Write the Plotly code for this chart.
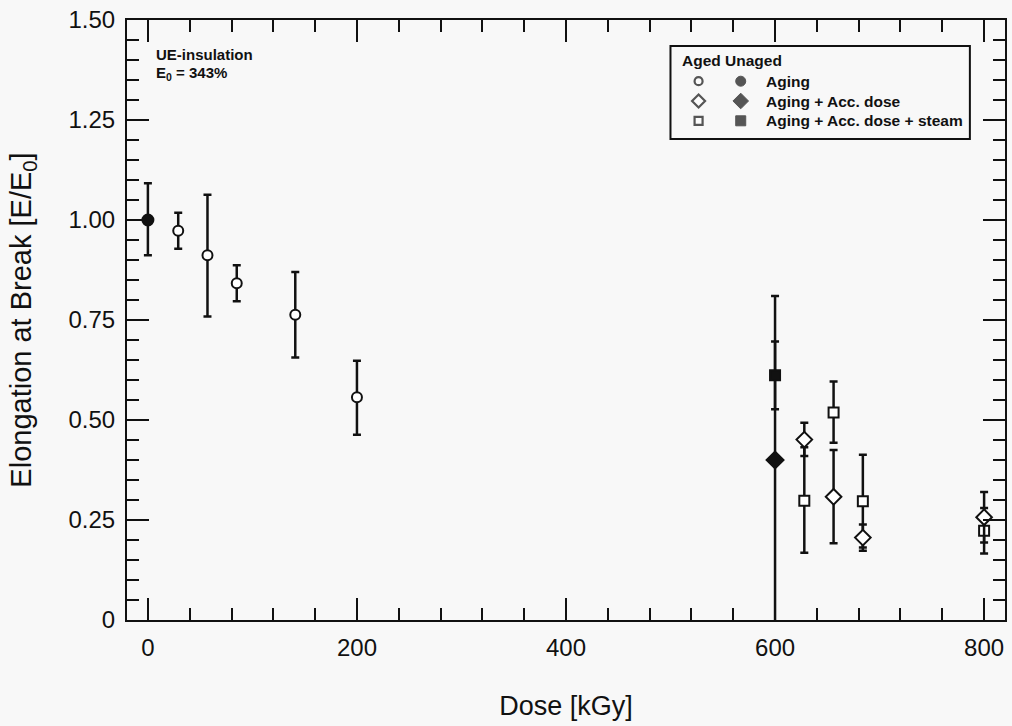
import plotly.graph_objects as go

# ---------------- data ----------------
aged_aging_dose = [29, 57, 85, 141, 200]
aged_aging_val = [0.973, 0.912, 0.842, 0.763, 0.557]
aged_aging_err_plus = [0.045, 0.151, 0.045, 0.107, 0.091]
aged_aging_err_minus = [0.045, 0.153, 0.045, 0.107, 0.094]

unaged_aging_dose = [0]
unaged_aging_val = [1.00]
unaged_aging_err_plus = [0.092]
unaged_aging_err_minus = [0.088]

aged_acc_dose = [628, 656, 684, 800]
aged_acc_val = [0.451, 0.308, 0.206, 0.257]
aged_acc_err_plus = [0.042, 0.117, 0.033, 0.063]
aged_acc_err_minus = [0.041, 0.116, 0.033, 0.063]

unaged_acc_dose = [600]
unaged_acc_val = [0.40]
unaged_acc_err_plus = [0.41]
unaged_acc_err_minus = [0.42]

aged_steam_dose = [628, 656, 684, 800]
aged_steam_val = [0.298, 0.519, 0.297, 0.223]
aged_steam_err_plus = [0.134, 0.077, 0.116, 0.057]
aged_steam_err_minus = [0.130, 0.076, 0.116, 0.057]

unaged_steam_dose = [600]
unaged_steam_val = [0.612]
unaged_steam_err_plus = [0.084]
unaged_steam_err_minus = [0.085]

x_ticks = [0, 200, 400, 600, 800]
x_tick_labels = ["0", "200", "400", "600", "800"]
y_ticks = [0, 0.25, 0.5, 0.75, 1.0, 1.25, 1.5]
y_tick_labels = ["0", "0.25", "0.50", "0.75", "1.00", "1.25", "1.50"]

legend_labels = ["Aging", "Aging + Acc. dose", "Aging + Acc. dose + steam"]
legend_symbols = ["circle", "diamond", "square"]

# ---------------- style ----------------
BG = "#f8f8f8"
FONT = "Liberation Sans, Arial, Helvetica, sans-serif"
BLACK = "#111111"


def err(plus, minus):
    return dict(type="data", symmetric=False, array=plus, arrayminus=minus,
                color=BLACK, thickness=2.5, width=4)


def series(x, y, plus, minus, symbol, filled, size):
    return go.Scatter(
        x=x, y=y, mode="markers",
        error_y=err(plus, minus),
        marker=dict(symbol=symbol, size=size,
                    color=BLACK if filled else "white",
                    line=dict(color=BLACK, width=2)),
        showlegend=False, cliponaxis=True,
    )


fig = go.Figure()
fig.add_trace(series(unaged_acc_dose, unaged_acc_val, unaged_acc_err_plus, unaged_acc_err_minus, "diamond", True, 13))
fig.add_trace(series(unaged_steam_dose, unaged_steam_val, unaged_steam_err_plus, unaged_steam_err_minus, "square", True, 10))
fig.add_trace(series(aged_steam_dose, aged_steam_val, aged_steam_err_plus, aged_steam_err_minus, "square", False, 10))
fig.add_trace(series(aged_acc_dose, aged_acc_val, aged_acc_err_plus, aged_acc_err_minus, "diamond", False, 12))
fig.add_trace(series(aged_aging_dose, aged_aging_val, aged_aging_err_plus, aged_aging_err_minus, "circle", False, 10))
fig.add_trace(series(unaged_aging_dose, unaged_aging_val, unaged_aging_err_plus, unaged_aging_err_minus, "circle", True, 11))

# ---------------- custom legend ----------------
row_y = [0.898, 0.865, 0.832]
fig.add_trace(go.Scatter(
    x=[0.651] * 3, y=row_y, xaxis="x2", yaxis="y2", mode="markers",
    marker=dict(symbol=legend_symbols, size=[8, 10, 8], color="white",
                line=dict(color=BLACK, width=2.2)),
    showlegend=False, hoverinfo="skip"))
fig.add_trace(go.Scatter(
    x=[0.699] * 3, y=row_y, xaxis="x2", yaxis="y2", mode="markers",
    marker=dict(symbol=legend_symbols, size=[10, 12, 10], color=BLACK,
                line=dict(color=BLACK, width=1)),
    showlegend=False, hoverinfo="skip"))

annotations = [
    dict(x=0.630, y=0.932, xref="paper", yref="paper", text="<b>Aged Unaged</b>",
         showarrow=False, xanchor="left", yanchor="middle",
         font=dict(family=FONT, size=15.5, color=BLACK)),
    dict(x=0.031, y=0.943, xref="paper", yref="paper", text="<b>UE-insulation</b>",
         showarrow=False, xanchor="left", yanchor="middle",
         font=dict(family=FONT, size=15, color=BLACK)),
    dict(x=0.031, y=0.910, xref="paper", yref="paper",
         text="<b>E<sub>0</sub> = 343%</b>",
         showarrow=False, xanchor="left", yanchor="middle",
         font=dict(family=FONT, size=15, color=BLACK)),
]
for lbl, yy in zip(legend_labels, row_y):
    annotations.append(dict(x=0.726, y=yy, xref="paper", yref="paper",
                            text="<b>" + lbl + "</b>", showarrow=False,
                            xanchor="left", yanchor="middle",
                            font=dict(family=FONT, size=15.5, color=BLACK)))

shapes = [dict(type="rect", xref="paper", yref="paper",
               x0=0.619, x1=0.960, y0=0.8017, y1=0.9567,
               line=dict(color=BLACK, width=2), fillcolor="rgba(0,0,0,0)")]

axis_common = dict(
    showgrid=False, zeroline=False, showline=True, linecolor=BLACK, linewidth=2,
    mirror="allticks", ticks="inside", ticklen=22, tickwidth=2, tickcolor=BLACK,
    tickfont=dict(family=FONT, size=24, color=BLACK),
)

fig.update_layout(
    width=1012, height=726,
    paper_bgcolor=BG, plot_bgcolor=BG,
    margin=dict(l=127, r=5, t=20, b=106),
    xaxis=dict(range=[-20, 820], tickvals=x_ticks, ticktext=x_tick_labels,
               minor=dict(dtick=40, tick0=0, ticks="inside", ticklen=12,
                          tickwidth=2, tickcolor=BLACK, showgrid=False),
               title=dict(text="Dose [kGy]", standoff=36,
                          font=dict(family=FONT, size=27, color=BLACK)),
               ticklabelstandoff=5,
               **axis_common),
    yaxis=dict(range=[0, 1.5], tickvals=y_ticks, ticktext=y_tick_labels,
               minor=dict(dtick=0.05, tick0=0, ticks="inside", ticklen=12,
                          tickwidth=2, tickcolor=BLACK, showgrid=False),
               title=dict(text="Elongation at Break [E/E<sub>0</sub>]", standoff=28,
                          font=dict(family=FONT, size=29, color=BLACK)),
               ticklabelstandoff=5,
               **axis_common),
    xaxis2=dict(overlaying="x", range=[0, 1], visible=False, fixedrange=True),
    yaxis2=dict(overlaying="y", range=[0, 1], visible=False, fixedrange=True),
    annotations=annotations,
    shapes=shapes,
    showlegend=False,
)

fig.write_html(
    "out.html",
    config={"displayModeBar": False},
    post_script="document.body.style.margin='0';document.body.style.background='#f8f8f8';",
)
